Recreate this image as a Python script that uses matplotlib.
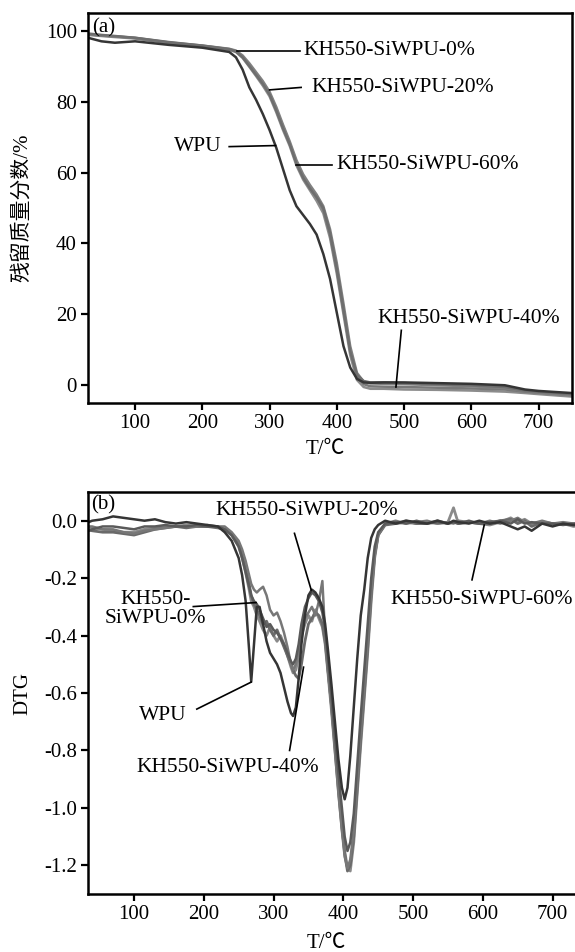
import matplotlib
matplotlib.use("Agg")
from matplotlib import pyplot as plt

plt.rcParams['font.family'] = ['Liberation Serif', 'Noto Sans CJK SC']
plt.rcParams['axes.unicode_minus'] = False

# TGA residual mass (%) against temperature
t_tga = [30, 50, 70, 100, 150, 200, 240, 250, 260, 270, 280, 290, 300, 310, 320, 330,
         340, 350, 360, 370, 380, 390, 400, 410, 420, 430, 440, 450, 470, 500, 550, 600,
         650, 680, 700, 750]
wpu_tga = [98.0, 97.0, 96.6, 97.0, 96.0, 95.2, 94.0, 92.5, 89.0, 84.0, 80.5, 76.5, 72.0,
           67.0, 61.0, 55.0, 50.5, 48.0, 45.5, 42.5, 37.0, 30.0, 20.5, 11.0, 5.0, 1.8, 0.8,
           0.7, 0.8, 0.8, 0.6, 0.4, 0.0, -1.2, -1.6, -2.2]
kh0_tga = [99.2, 98.8, 98.5, 98.0, 96.8, 95.8, 94.8, 94.2, 92.5, 90.0, 87.5, 85.0, 82.0,
           77.5, 72.5, 68.0, 62.5, 58.5, 55.5, 53.0, 50.0, 43.0, 33.0, 21.5, 9.5, 3.0, 1.2,
           0.8, 0.8, 0.6, 0.3, 0.0, -0.5, -1.5, -1.8, -2.5]
kh20_tga = [99.0, 98.6, 98.4, 98.0, 96.7, 95.8, 94.9, 94.4, 93.0, 90.8, 88.3, 85.8, 82.8,
            78.5, 73.5, 68.8, 63.5, 59.5, 56.5, 53.8, 50.5, 44.0, 34.5, 23.0, 11.0, 3.5, 1.0,
            0.5, 0.4, 0.3, 0.0, -0.3, -0.8, -1.6, -2.0, -2.8]
kh40_tga = [98.8, 98.5, 98.2, 97.8, 96.5, 95.6, 94.6, 94.0, 92.3, 89.8, 87.2, 84.5, 81.5,
            77.0, 72.0, 67.5, 62.0, 58.0, 55.0, 52.0, 48.5, 41.5, 31.5, 20.0, 8.5, 1.5, -0.5,
            -1.0, -1.0, -1.2, -1.3, -1.5, -1.8, -2.2, -2.5, -3.2]
kh60_tga = [99.0, 98.7, 98.4, 97.9, 96.6, 95.7, 94.7, 94.1, 92.6, 90.3, 87.8, 85.2, 82.2,
            77.8, 73.0, 68.2, 63.0, 59.0, 56.0, 53.2, 49.5, 42.5, 32.5, 21.0, 10.0, 2.5, 0.3,
            -0.3, -0.4, -0.5, -0.7, -0.9, -1.2, -1.8, -2.1, -2.8]

# DTG against temperature
t_dtg = [30, 40, 55, 70, 85, 100, 115, 130, 145, 160, 175, 190, 205, 220,
         230, 240, 250, 255, 260, 265, 268, 272, 276, 280,
         285, 290, 295, 300, 305, 310, 315, 320, 325, 328, 332, 336, 340,
         345, 350, 355, 360, 365, 370, 374, 378, 383, 388, 393, 398, 402, 406, 410,
         415, 420, 425, 430, 435, 440, 445, 450,
         460, 475, 490, 505, 520, 535, 550, 558, 565, 580, 595, 610, 625, 640, 650, 660,
         670, 685, 700, 715, 730, 745]
wpu_dtg = [-0.01, 0.0, 0.005, 0.015, 0.01, 0.005, 0.0, 0.005, -0.005, -0.01, -0.005, -0.01, -0.015, -0.02,
           -0.04, -0.07, -0.13, -0.19, -0.28, -0.45, -0.56, -0.43, -0.30, -0.30,
           -0.36, -0.42, -0.46, -0.48, -0.50, -0.53, -0.58, -0.63, -0.67, -0.68, -0.65, -0.55, -0.43,
           -0.33, -0.26, -0.24, -0.25, -0.27, -0.30, -0.36, -0.45, -0.57, -0.70, -0.83, -0.93, -0.97, -0.93, -0.82,
           -0.65, -0.48, -0.33, -0.24, -0.13, -0.06, -0.03, -0.015,
           0.0, -0.01, 0.0, -0.005, -0.01, 0.0, -0.01, 0.0, -0.005, -0.01, 0.0, -0.01, -0.005, -0.02, -0.03, -0.02,
           -0.035, -0.01, -0.02, -0.01, -0.015, -0.01]
kh0_dtg = [-0.04, -0.03, -0.02, -0.02, -0.025, -0.03, -0.02, -0.02, -0.015, -0.02, -0.02, -0.015, -0.02, -0.02,
           -0.03, -0.05, -0.09, -0.13, -0.18, -0.23, -0.26, -0.28, -0.29, -0.31,
           -0.34, -0.37, -0.36, -0.38, -0.39, -0.41, -0.43, -0.46, -0.49, -0.50, -0.48, -0.43, -0.36,
           -0.30, -0.27, -0.25, -0.26, -0.28, -0.32, -0.38, -0.48, -0.61, -0.75, -0.88, -1.00, -1.10, -1.15, -1.12,
           -1.02, -0.85, -0.68, -0.52, -0.36, -0.20, -0.09, -0.04,
           -0.01, -0.005, -0.01, 0.0, -0.01, -0.005, -0.01, -0.005, -0.01, 0.0, -0.01, -0.005, 0.0, -0.01, 0.005, -0.01,
           -0.005, -0.01, -0.01, -0.015, -0.01, -0.01]
kh20_dtg = [-0.02, -0.02, -0.03, -0.03, -0.04, -0.045, -0.035, -0.03, -0.025, -0.02, -0.02, -0.02, -0.015, -0.02,
            -0.02, -0.04, -0.07, -0.10, -0.14, -0.19, -0.22, -0.24, -0.25, -0.24,
            -0.23, -0.26, -0.31, -0.33, -0.32, -0.35, -0.39, -0.44, -0.50, -0.52, -0.50, -0.45, -0.38,
            -0.34, -0.32, -0.30, -0.33, -0.28, -0.21, -0.40, -0.52, -0.65, -0.80, -0.95, -1.08, -1.17, -1.21, -1.18,
            -1.08, -0.90, -0.74, -0.58, -0.42, -0.25, -0.12, -0.05,
            -0.01, 0.0, -0.01, -0.005, 0.0, -0.01, -0.005, -0.01, 0.0, -0.005, -0.01, 0.0, -0.01, 0.0, 0.01, -0.005,
            -0.01, 0.0, -0.01, -0.005, -0.01, -0.01]
kh40_dtg = [-0.03, -0.035, -0.04, -0.04, -0.045, -0.05, -0.04, -0.03, -0.025, -0.02, -0.025, -0.02, -0.02, -0.025,
            -0.03, -0.05, -0.08, -0.12, -0.17, -0.22, -0.26, -0.29, -0.31, -0.33,
            -0.36, -0.35, -0.38, -0.40, -0.38, -0.41, -0.44, -0.47, -0.50, -0.52, -0.54, -0.55, -0.50,
            -0.42, -0.36, -0.34, -0.32, -0.33, -0.36, -0.42, -0.52, -0.64, -0.78, -0.93, -1.06, -1.16, -1.22, -1.20,
            -1.10, -0.93, -0.76, -0.60, -0.44, -0.26, -0.12, -0.05,
            -0.015, -0.01, -0.005, -0.01, -0.01, 0.0, -0.01, -0.005, -0.01, -0.005, -0.01, -0.01, 0.0, 0.005, -0.01, 0.0,
            -0.02, -0.005, -0.01, -0.01, -0.015, -0.02]
kh60_dtg = [-0.02, -0.025, -0.03, -0.035, -0.04, -0.04, -0.03, -0.025, -0.02, -0.02, -0.015, -0.02, -0.02, -0.02,
            -0.03, -0.05, -0.09, -0.13, -0.18, -0.24, -0.28, -0.30, -0.33, -0.35,
            -0.38, -0.40, -0.37, -0.40, -0.42, -0.40, -0.43, -0.47, -0.51, -0.53, -0.52, -0.47, -0.40,
            -0.36, -0.33, -0.35, -0.31, -0.34, -0.37, -0.43, -0.53, -0.66, -0.80, -0.94, -1.07, -1.15, -1.21, -1.22,
            -1.12, -0.95, -0.78, -0.62, -0.46, -0.28, -0.13, -0.05,
            -0.01, -0.01, 0.0, -0.01, -0.005, -0.01, -0.005, 0.045, -0.01, -0.005, -0.01, -0.015, -0.005, 0.01, -0.005, 0.005,
            -0.01, -0.005, -0.01, -0.01, -0.02, -0.015]

tga_colors = {"wpu": "#353535", "kh0": "#6e6e6e", "kh20": "#808080", "kh40": "#8c8c8c", "kh60": "#787878"}
dtg_colors = {"wpu": "#353535", "kh0": "#5a5a5a", "kh20": "#777777", "kh40": "#6a6a6a", "kh60": "#8a8a8a"}
lw = 1.8
fs_tick = 15
fs_text = 15.5
fs_label = 15


def style_axes(ax):
    for s in ax.spines.values():
        s.set_linewidth(1.8)
    ax.tick_params(direction="out", length=5, width=1.6, labelsize=fs_tick, pad=3,
                   top=False, right=False)


fig = plt.figure(figsize=(5.75, 9.52), dpi=100)

# (a) TGA
ax1 = fig.add_axes([0.153, 0.5767, 0.842, 0.4097])
ax1.plot(t_tga, kh40_tga, color=tga_colors["kh40"], lw=lw)
ax1.plot(t_tga, kh60_tga, color=tga_colors["kh60"], lw=lw)
ax1.plot(t_tga, kh20_tga, color=tga_colors["kh20"], lw=lw)
ax1.plot(t_tga, kh0_tga, color=tga_colors["kh0"], lw=lw)
ax1.plot(t_tga, wpu_tga, color=tga_colors["wpu"], lw=lw)
ax1.set_xlim(30, 750)
ax1.set_ylim(-5, 105)
ax1.set_xticks([100, 200, 300, 400, 500, 600, 700])
ax1.set_yticks([0, 20, 40, 60, 80, 100])
style_axes(ax1)
ax1.set_xlabel("T/℃", fontsize=fs_label)
ax1.xaxis.set_label_coords(0.49, -0.095)
ax1.set_ylabel("残留质量分数/%", fontsize=fs_label)
ax1.yaxis.set_label_coords(-0.116, 0.5)

ax1.text(36, 100.8, "(a)", fontsize=fs_tick, ha="left", va="center")
ax1.plot([251, 345], [94.4, 94.4], color="black", lw=1.2)
ax1.text(350, 94.4, "KH550-SiWPU-0%", fontsize=fs_text, ha="left", va="center")
ax1.plot([300, 347], [83.3, 84.0], color="black", lw=1.2)
ax1.text(362, 84.0, "KH550-SiWPU-20%", fontsize=fs_text, ha="left", va="center")
ax1.plot([240, 309], [67.3, 67.6], color="black", lw=1.2)
ax1.text(229, 67.3, "WPU", fontsize=fs_text, ha="right", va="center")
ax1.plot([339, 393], [62.2, 62.2], color="black", lw=1.2)
ax1.text(400, 62.2, "KH550-SiWPU-60%", fontsize=fs_text, ha="left", va="center")
ax1.plot([496, 488], [15.5, -0.5], color="black", lw=1.2)
ax1.text(461, 18.8, "KH550-SiWPU-40%", fontsize=fs_text, ha="left", va="center")

# (b) DTG
ax2 = fig.add_axes([0.153, 0.0609, 0.8626, 0.4223])
ax2.plot(t_dtg, kh60_dtg, color=dtg_colors["kh60"], lw=2.0)
ax2.plot(t_dtg, kh40_dtg, color=dtg_colors["kh40"], lw=2.0)
ax2.plot(t_dtg, kh20_dtg, color=dtg_colors["kh20"], lw=lw)
ax2.plot(t_dtg, kh0_dtg, color=dtg_colors["kh0"], lw=lw)
ax2.plot(t_dtg, wpu_dtg, color=dtg_colors["wpu"], lw=lw)
ax2.set_xlim(34, 745)
ax2.set_ylim(-1.3, 0.1)
ax2.set_xticks([100, 200, 300, 400, 500, 600, 700])
ax2.set_yticks([0.0, -0.2, -0.4, -0.6, -0.8, -1.0, -1.2])
ax2.set_yticklabels(["0.0", "-0.2", "-0.4", "-0.6", "-0.8", "-1.0", "-1.2"])
style_axes(ax2)
ax2.set_xlabel("T/℃", fontsize=fs_label)
ax2.xaxis.set_label_coords(0.48, -0.10)
ax2.set_ylabel("DTG", fontsize=fs_label)
ax2.yaxis.set_label_coords(-0.113, 0.5)

ax2.text(38, 0.055, "(b)", fontsize=fs_tick, ha="left", va="center")
ax2.plot([330, 354], [-0.044, -0.241], color="black", lw=1.2)
ax2.text(217, 0.037, "KH550-SiWPU-20%", fontsize=fs_text, ha="left", va="center")
ax2.plot([185, 275], [-0.299, -0.285], color="black", lw=1.2)
ax2.text(131, -0.308, "KH550-\nSiWPU-0%", fontsize=fs_text, ha="center", va="center",
         linespacing=1.0)
ax2.plot([190, 268], [-0.656, -0.562], color="black", lw=1.2)
ax2.text(141, -0.68, "WPU", fontsize=fs_text, ha="center", va="center")
ax2.plot([323, 343], [-0.80, -0.51], color="black", lw=1.2)
ax2.text(234, -0.86, "KH550-SiWPU-40%", fontsize=fs_text, ha="center", va="center")
ax2.plot([584.5, 602], [-0.206, -0.015], color="black", lw=1.2)
ax2.text(598, -0.276, "KH550-SiWPU-60%", fontsize=fs_text, ha="center", va="center")

fig.savefig("out.png", dpi=100)
